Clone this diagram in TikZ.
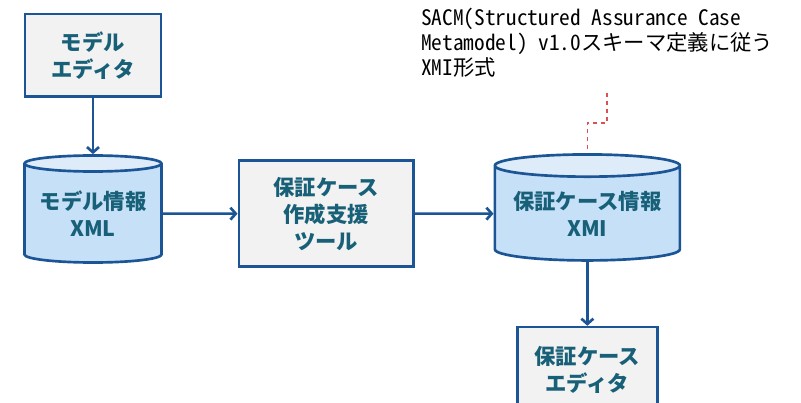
\documentclass[tikz,border=0pt]{standalone}
\usepackage{fontspec}
\newfontfamily\jpfont{Noto Sans CJK JP}
\newfontfamily\notefont[RawFeature=+hwid]{Noto Sans CJK JP}
\usepackage{xcolor}
\usetikzlibrary{arrows,arrows.meta,positioning,shapes}

\definecolor{lineblue}{RGB}{28,85,150}
\definecolor{textteal}{RGB}{23,96,120}
\definecolor{boxgray}{RGB}{242,242,242}
\definecolor{dbbody}{RGB}{198,224,248}
\definecolor{dbtop}{RGB}{222,236,250}
\definecolor{noteline}{RGB}{222,80,80}

\tikzset{
  toolbox/.style={draw=lineblue,line width=2pt,fill=boxgray,align=center,
    text=textteal,font=\jpfont\bfseries\fontsize{16}{20.25}\selectfont,inner sep=0pt},
  datafile/.style={cylinder,shape border rotate=90,aspect=0.15,draw=lineblue,
    line width=2pt,cylinder uses custom fill,cylinder body fill=dbbody,
    cylinder end fill=dbtop,align=center,text=textteal,
    font=\jpfont\bfseries\fontsize{16}{20.25}\selectfont,inner sep=0pt},
  flow/.style={-{Straight Barb[length=4pt,width=9pt]},draw=lineblue,line width=2pt},
}

\begin{document}
\begin{tikzpicture}[x=0.75pt,y=-0.75pt]
\useasboundingbox (0,0) rectangle (801,403);

\node[toolbox,minimum width=102pt,minimum height=62pt] (modeleditor) at (93,55.5) {モデル\\エディタ};
\node[datafile,below=42pt of modeleditor,minimum width=102.75pt,minimum height=80.25pt] (modelxml) {モデル情報\\XML};
\node[toolbox,right=56pt of modelxml,minimum width=131pt,minimum height=79.5pt] (tool) {保証ケース\\作成支援\\ツール};
\node[datafile,right=59pt of tool,minimum width=138.75pt,minimum height=79.5pt] (casexmi) {保証ケース情報\\XMI};
\node[toolbox,below=48pt of casexmi,minimum width=105pt,minimum height=64.5pt] (caseeditor) {保証ケース\\エディタ};

\node[anchor=north west,inner sep=0pt,align=left,
  font=\notefont\fontsize{16}{18.75}\selectfont] (note) at (421,8)
  {SACM(Structured Assurance Case\\Metamodel) v1.0スキーマ定義に従う\\XMI形式};
\coordinate (noteend) at (607,93);

\draw[flow] (modeleditor)--(modelxml);
\draw[flow] (modelxml)--(tool);
\draw[flow] (tool)--(casexmi);
\draw[flow] (casexmi)--(caseeditor);
\draw[noteline,dashed,line width=0.9pt] (noteend)--++(0,30)-|(casexmi.north);
\end{tikzpicture}
\end{document}
